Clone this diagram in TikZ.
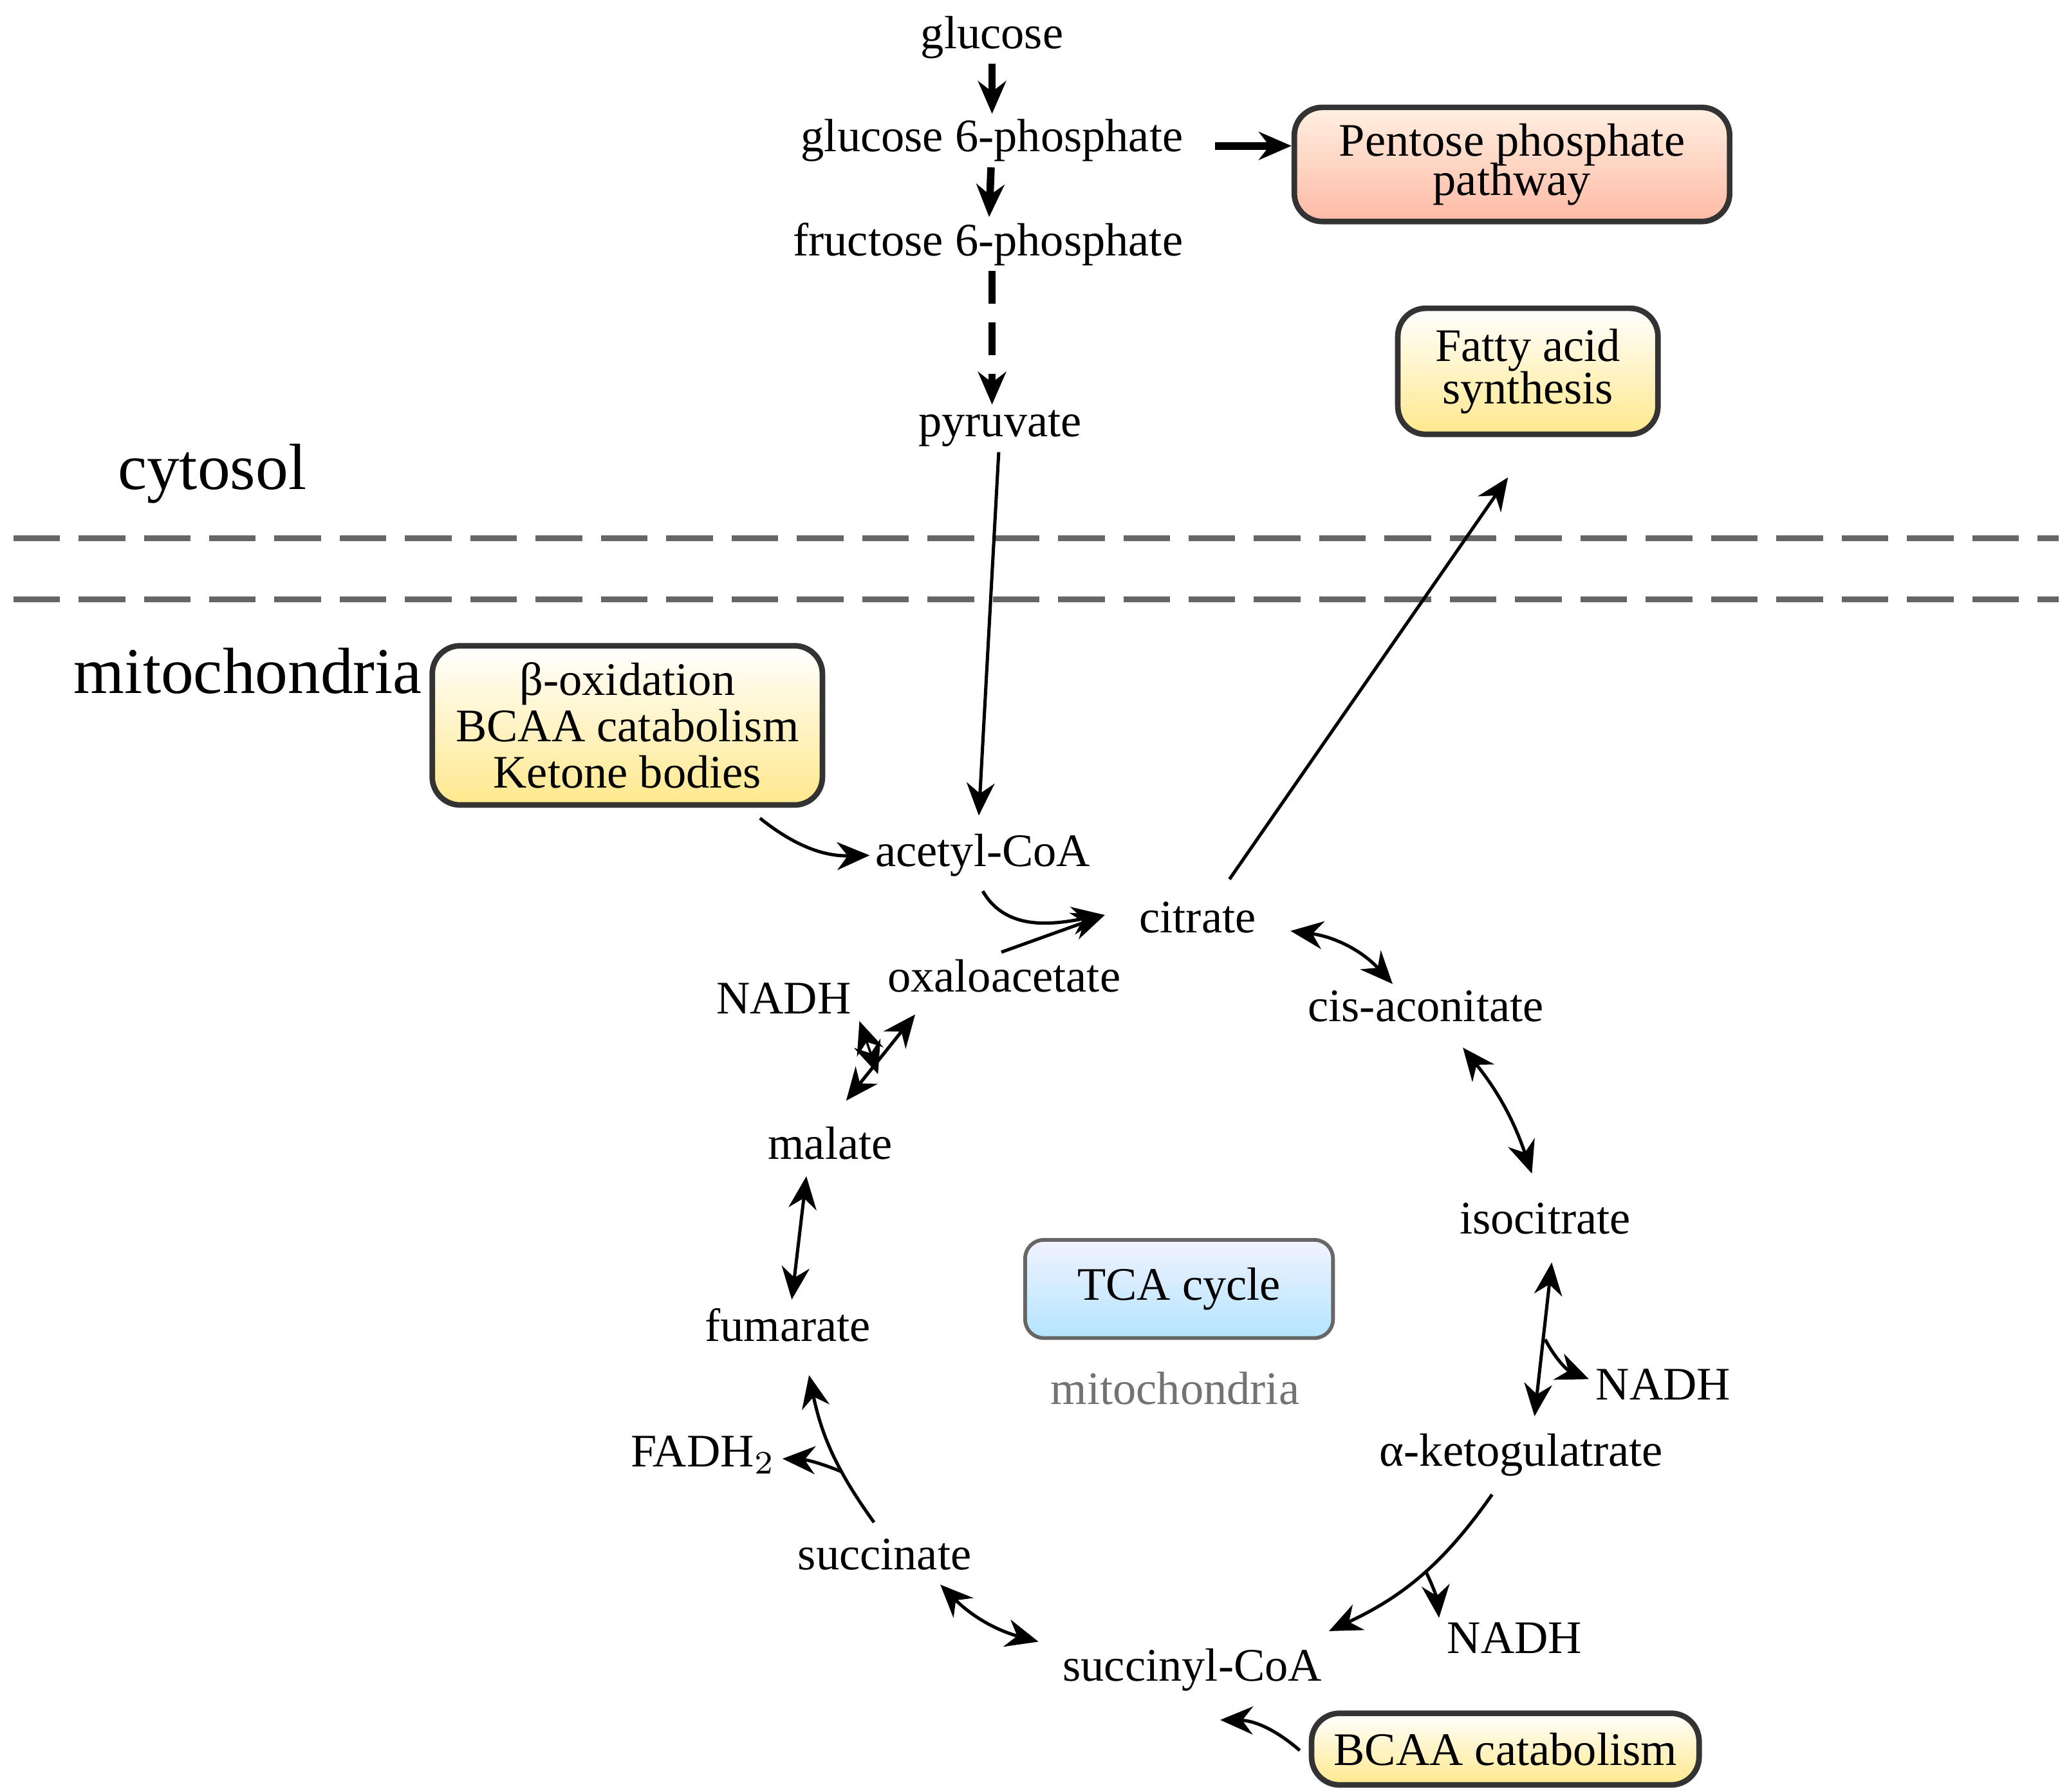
\documentclass[tikz,border=0pt]{standalone}
\usepackage{fontspec}
\setmainfont{Liberation Serif}
\usetikzlibrary{arrows.meta}
\begin{document}
\begin{tikzpicture}[x=0.01cm,y=-0.01cm,font=\fontsize{10}{10}\selectfont,
	met/.style={inner sep=1pt},
	pbox/.style={draw=black!80,line width=1.2pt,rounded corners=6pt,align=center,inner sep=0pt},
	ar/.style={-{Stealth[length=7pt,width=6pt]},line width=0.7pt},
	dar/.style={{Stealth[length=7pt,width=6pt]}-{Stealth[length=7pt,width=6pt]},line width=0.7pt},
	thk/.style={-{Stealth[length=7pt,width=6pt]},line width=1.6pt}]
	\useasboundingbox (0,0) rectangle (1560,1351);

	\node[met] (glc) at (748,28) {glucose};
	\node[met] (g6p) at (748,106) {glucose 6-phosphate};
	\node[met] (f6p) at (745,184) {fructose 6-phosphate};
	\node[met] (pyr) at (754,323) {pyruvate};
	\node[pbox,minimum width=3.28cm,minimum height=0.86cm,top color=white!60!orange!30,bottom color=orange!45!red!35] (ppp) at (1140,124) {Pentose phosphate\\[-1.5pt]pathway};
	\node[pbox,minimum width=1.96cm,minimum height=0.95cm,top color=white,bottom color=yellow!60!orange!45] (fas) at (1152,280) {Fatty acid\\[-1pt]synthesis};
	\node (cyt) at (160,357) {\fontsize{14}{14}\selectfont cytosol};
	\coordinate (l1a) at (10,406); \coordinate (l1b) at (1552,406);
	\coordinate (l2a) at (10,452); \coordinate (l2b) at (1552,452);
	\draw[dashed,black!60,line width=1.3pt,dash pattern=on 10pt off 4pt] (l1a) -- (l1b) (l2a) -- (l2b);
	\node (mito) at (187,506) {\fontsize{14}{14}\selectfont mitochondria};
	\node[pbox,minimum width=2.94cm,minimum height=1.2cm,top color=white,bottom color=yellow!60!orange!45] (box) at (473,547) {β-oxidation\\BCAA catabolism\\Ketone bodies};
	\node[met] (aca) at (741,645) {acetyl-CoA};
	\node[met] (cit) at (903,692) {citrate};
	\node[met] (oaa) at (757,736) {oxaloacetate};
	\node[met] (nadh1) at (591,753) {NADH};
	\node[met] (cis) at (1075,759) {cis-aconitate};
	\node[met] (mal) at (626,862) {malate};
	\node[met] (iso) at (1165,919) {isocitrate};
	\node[pbox,draw=black!60,line width=0.8pt,rounded corners=4pt,minimum width=2.32cm,minimum height=0.74cm,top color=blue!5,bottom color=blue!35!cyan!30] (tca) at (889,972) {TCA cycle};
	\node[text=black!55] (mlab) at (886,1047) {mitochondria};
	\node[met] (fum) at (594,999) {fumarate};
	\node[met] (nadh2) at (1254,1044) {NADH};
	\node[met] (fad) at (530,1097) {FADH$_2$};
	\node[met] (akg) at (1147,1097) {α-ketogulatrate};
	\node[met] (suc) at (667,1172) {succinate};
	\node[met] (nadh3) at (1142,1235) {NADH};
	\node[met] (sca) at (899,1259) {succinyl-CoA};
	\node[pbox,minimum width=2.92cm,minimum height=0.54cm,top color=white,bottom color=yellow!60!orange!45] (bcaa) at (1135,1319) {BCAA catabolism};

	% glycolysis
	\draw[thk] (glc) -- (g6p);
	\draw[thk] (g6p) -- (f6p);
	\draw[thk] (g6p.east) ++(20,4) coordinate (g6) -- (ppp.west |- g6);
	\draw[thk,dashed,dash pattern=on 7pt off 4pt] (f6p.south -| glc) -- (pyr.north -| glc);
	\draw[ar] (pyr) -- (738,615);
	\draw[ar] (927,663) -- (1137,360);
	\draw[ar] (573,617) to[bend right=20] (aca.west);
	% cycle
	\draw[ar] (741,672) to[out=-60,in=190] (833,690);
	\draw[ar] (755,718) -- (833,690);
	\draw[dar] (973,702) to[bend left=20] (1050,742);
	\draw[dar] (1103,790) to[bend left=10] (1155,885);
	\draw[dar] (1170,952) -- (1157,1068);
	\draw[ar] (1165,1010) to[bend right=20] (1198,1040);
	\draw[ar] (1125,1127) to[bend left=15] (1002,1230);
	\draw[ar] (1075,1185) to[bend left=10] (1085,1220);
	\draw[dar] (783,1238) to[bend left=15] (709,1195);
	\draw[ar] (659,1148) to[bend left=12] (610,1037);
	\draw[ar] (635,1110) to[bend right=10] (590,1100);
	\draw[dar] (608,887) -- (597,980);
	\draw[dar] (690,765) -- (638,830);
	\draw[dar,line width=0.5pt] (648,770) -- (662,810);
	\draw[ar] (980,1320) to[bend right=20] (920,1297);
\end{tikzpicture}
\end{document}
